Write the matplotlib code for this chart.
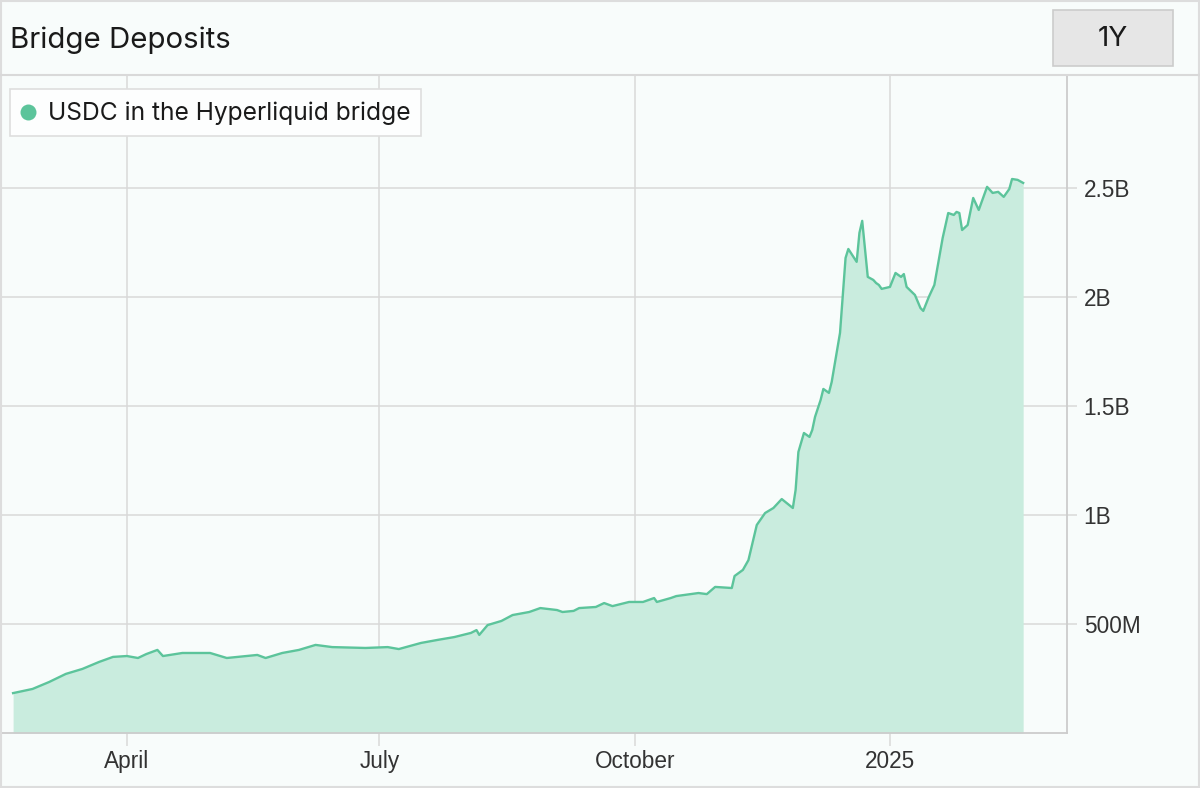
import matplotlib
matplotlib.use("Agg")
import matplotlib.pyplot as plt
import matplotlib.dates as mdates
from matplotlib.patches import Rectangle
from matplotlib.lines import Line2D
import pandas as pd

# ---------------- data ----------------
dates = [
    "2024-02-20", "2024-02-27", "2024-03-04", "2024-03-10", "2024-03-16", "2024-03-22",
    "2024-03-27", "2024-04-01", "2024-04-05", "2024-04-08", "2024-04-12", "2024-04-14",
    "2024-04-21", "2024-05-01", "2024-05-07", "2024-05-18", "2024-05-21", "2024-05-27",
    "2024-06-02", "2024-06-08", "2024-06-14", "2024-06-26", "2024-07-04", "2024-07-08",
    "2024-07-16", "2024-07-22", "2024-07-28", "2024-08-03", "2024-08-05", "2024-08-06",
    "2024-08-09", "2024-08-14", "2024-08-18", "2024-08-24", "2024-08-28", "2024-09-03",
    "2024-09-05", "2024-09-09", "2024-09-11", "2024-09-17", "2024-09-20", "2024-09-23",
    "2024-09-29", "2024-10-04", "2024-10-08", "2024-10-09", "2024-10-14", "2024-10-16",
    "2024-10-24", "2024-10-27", "2024-10-30", "2024-11-05", "2024-11-06", "2024-11-09",
    "2024-11-11", "2024-11-14", "2024-11-17", "2024-11-20", "2024-11-23", "2024-11-27",
    "2024-11-28", "2024-11-29", "2024-12-01", "2024-12-03", "2024-12-04", "2024-12-05",
    "2024-12-07", "2024-12-08", "2024-12-10", "2024-12-11", "2024-12-14", "2024-12-16",
    "2024-12-17", "2024-12-20", "2024-12-21", "2024-12-22", "2024-12-24", "2024-12-26",
    "2024-12-27", "2024-12-28", "2024-12-29", "2025-01-01", "2025-01-03", "2025-01-05",
    "2025-01-06", "2025-01-07", "2025-01-10", "2025-01-12", "2025-01-13", "2025-01-15",
    "2025-01-17", "2025-01-20", "2025-01-22", "2025-01-24", "2025-01-25", "2025-01-26",
    "2025-01-27", "2025-01-29", "2025-01-31", "2025-02-02", "2025-02-05", "2025-02-07",
    "2025-02-09", "2025-02-11", "2025-02-13", "2025-02-14", "2025-02-16", "2025-02-18",
]
usdc_millions = [
    183, 202, 234, 271, 294, 326,
    349, 353, 344, 362, 381, 353,
    367, 367, 344, 358, 344, 367,
    381, 404, 394, 390, 394, 385,
    413, 427, 440, 459, 472, 450,
    495, 514, 541, 555, 573, 564,
    555, 560, 573, 578, 596, 582,
    601, 601, 619, 601, 619, 628,
    642, 637, 670, 665, 720, 748,
    793, 954, 1009, 1032, 1073, 1032,
    1115, 1289, 1376, 1358, 1390, 1450,
    1527, 1578, 1560, 1610, 1835, 2179,
    2220, 2161, 2294, 2349, 2092, 2078,
    2064, 2055, 2037, 2046, 2110, 2092,
    2105, 2046, 2009, 1949, 1936, 2000,
    2055, 2271, 2385, 2376, 2390, 2385,
    2307, 2330, 2454, 2399, 2505, 2477,
    2482, 2459, 2495, 2541, 2537, 2523,
]
series_name = "USDC in the Hyperliquid bridge"
title = "Bridge Deposits"
range_button = "1Y"
y_ticks = [0.5e9, 1.0e9, 1.5e9, 2.0e9, 2.5e9]
y_tick_labels = ["500M", "1B", "1.5B", "2B", "2.5B"]
x_ticks = ["2024-04-01", "2024-07-01", "2024-10-01", "2025-01-01"]
x_tick_labels = ["April", "July", "October", "2025"]

# ---------------- styling ----------------
W, H = 1200, 788
BG = "#f8fcfb"
LINE = "#5cc49b"
FILL = "#c9ecde"
GRID = "#d9d9d9"
TXT = "#333333"

def fx(px):
    return px / W

def fy(py):
    return 1 - py / H

fig = plt.figure(figsize=(W / 100, H / 100), dpi=100)
fig.patch.set_facecolor(BG)

ax = fig.add_axes([fx(2), fy(733), fx(1067) - fx(2), fy(75) - fy(733)])
ax.set_facecolor(BG)

x = mdates.date2num(pd.to_datetime(dates))
y = [v * 1e6 for v in usdc_millions]

ax.fill_between(x, 0, y, color=FILL, linewidth=0, zorder=2)
ax.plot(x, y, color=LINE, linewidth=1.7, zorder=3)

apr1 = mdates.date2num(pd.Timestamp("2024-04-01"))
ax.set_xlim(apr1 - 45.0, apr1 + 338.8)
ax.set_ylim(0, 3.018e9)

ax.yaxis.tick_right()
ax.set_yticks(y_ticks)
ax.set_yticklabels(y_tick_labels)
ax.set_xticks(mdates.date2num(pd.to_datetime(x_ticks)))
ax.set_xticklabels(x_tick_labels)

ax.tick_params(axis="y", length=7, width=1.1, color=GRID, pad=5,
               labelsize=16.3, labelcolor=TXT)
ax.tick_params(axis="x", length=9, width=1.1, color=GRID, pad=3,
               labelsize=16.3, labelcolor=TXT)
for lab in ax.get_xticklabels() + ax.get_yticklabels():
    lab.set_fontfamily("Liberation Sans")

ax.grid(True, color=GRID, linewidth=1.1, zorder=1)
ax.set_axisbelow(True)
for s in ["top", "left"]:
    ax.spines[s].set_visible(False)
for s in ["bottom", "right"]:
    ax.spines[s].set_color("#cccccc")
    ax.spines[s].set_linewidth(1.3)

# header separator and outer border
fig.add_artist(Line2D([0, 1], [fy(75), fy(75)], color=GRID, linewidth=1.5,
                      transform=fig.transFigure))
fig.add_artist(Rectangle((0.0008, 0.0012), 0.9984, 0.9976, transform=fig.transFigure,
                         fill=False, edgecolor="#dddddd", linewidth=1.5))

# title
fig.text(fx(10), fy(40), title, fontsize=21.2, family="Inter", color="#1a1a1a",
         ha="left", va="center")

# range button
fig.add_artist(Rectangle((fx(1053), fy(66)), fx(1173) - fx(1053), fy(10) - fy(66),
                         transform=fig.transFigure, facecolor="#e6e6e6",
                         edgecolor="#cccccc", linewidth=1.2))
fig.text(fx(1113), fy(39), range_button, fontsize=20, family="Inter", color="#1a1a1a",
         ha="center", va="center")

# legend
fig.add_artist(Rectangle((fx(10), fy(136)), fx(421) - fx(10), fy(89) - fy(136),
                         transform=fig.transFigure, facecolor="#fdfefe",
                         edgecolor="#dedede", linewidth=1.2, zorder=5))
fig.add_artist(Line2D([fx(28)], [fy(112)], marker="o", markersize=11.5,
                      color=LINE, markeredgewidth=0, transform=fig.transFigure, zorder=6))
fig.text(fx(48), fy(113), series_name, fontsize=17.7, family="Inter", color="#1a1a1a",
         ha="left", va="center", zorder=6)

fig.savefig("out.png", dpi=100, facecolor=BG)
